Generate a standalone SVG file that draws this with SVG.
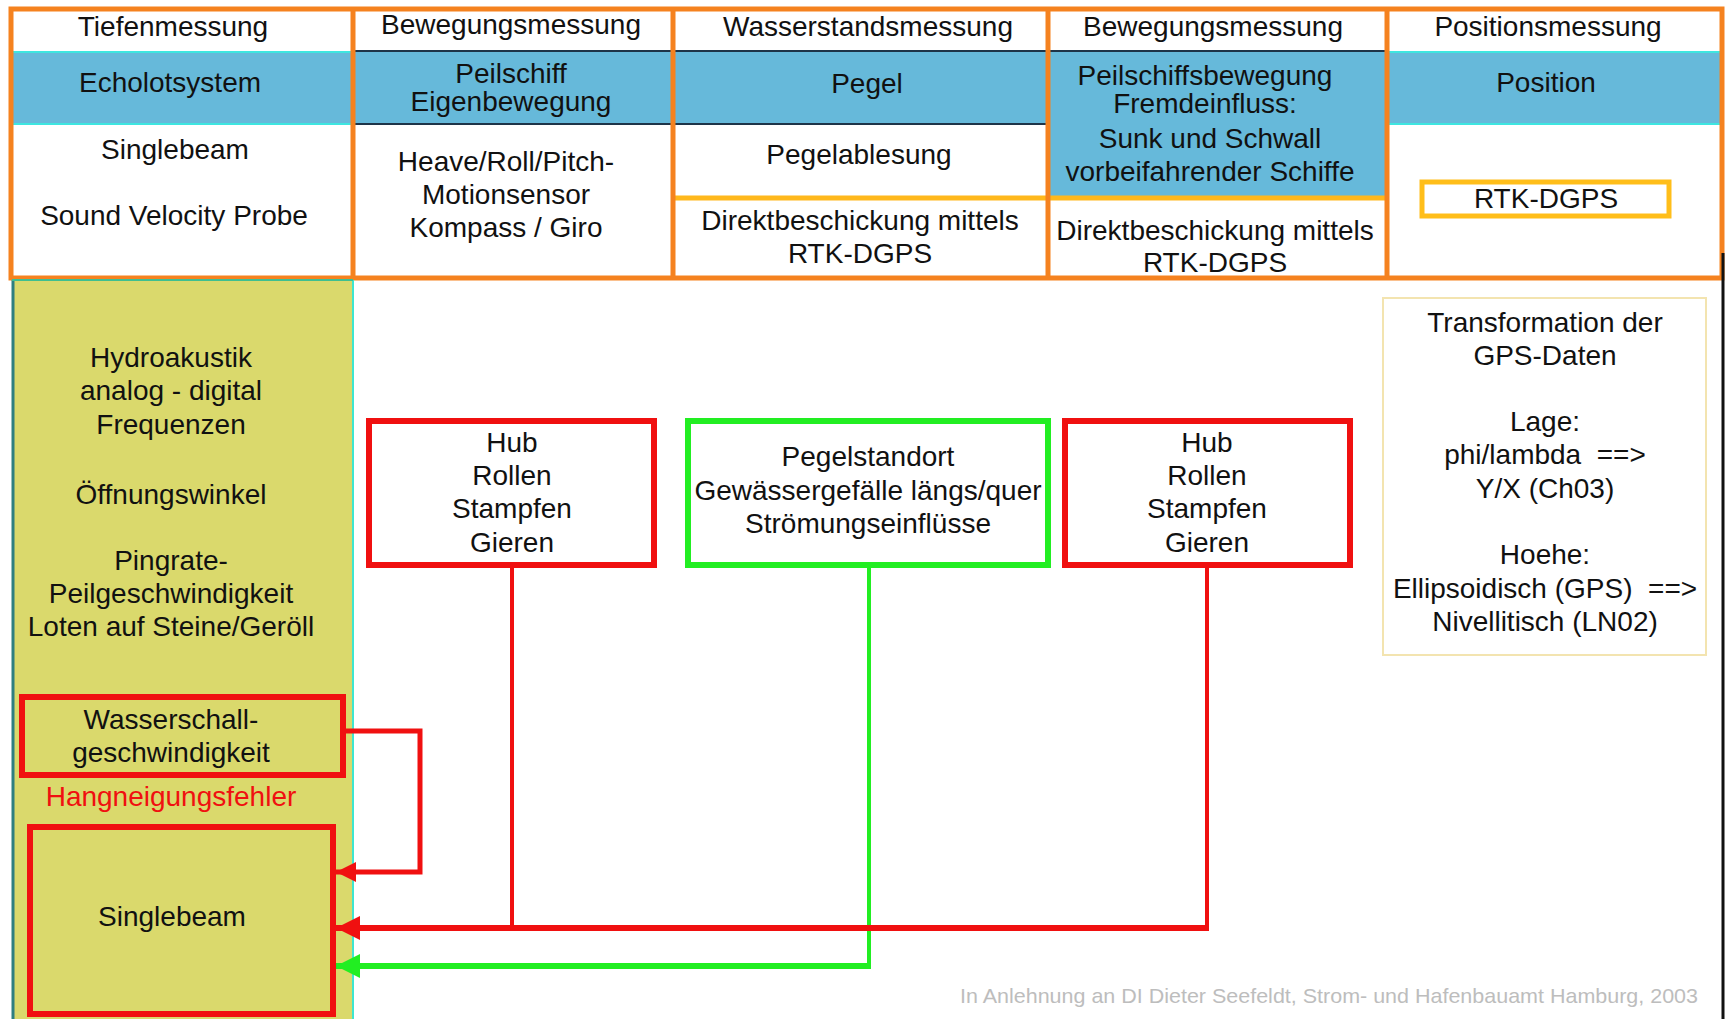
<svg xmlns="http://www.w3.org/2000/svg" width="1729" height="1019" viewBox="0 0 1729 1019">
<style>
text{font-family:"Liberation Sans",Arial,sans-serif;font-size:28px;fill:#111;text-anchor:middle}
.blue{fill:#66B9DA}
.org{stroke:#F5821F;stroke-width:5;fill:none}
.dark{stroke:#1E3448;stroke-width:2}
.cyan{stroke:#3EE6E0;stroke-width:2}
.red{stroke:#F01010;fill:none}
.grn{stroke:#22EE22;fill:none}
</style>
<defs>
<marker id="ar" viewBox="0 0 10 10" refX="10" refY="5" markerWidth="4" markerHeight="5" orient="auto" markerUnits="strokeWidth"><path d="M0,0L10,5L0,10z" fill="#F01010"/></marker>
<marker id="ag" viewBox="0 0 10 10" refX="10" refY="5" markerWidth="4" markerHeight="5" orient="auto" markerUnits="strokeWidth"><path d="M0,0L10,5L0,10z" fill="#22EE22"/></marker>
</defs>
<rect width="1729" height="1019" fill="#fff"/>

<g id="table">
<rect class="blue" x="11" y="51" width="1711" height="73"/>
<rect class="blue" x="1048" y="51" width="339" height="145"/>
<line class="cyan" x1="13" y1="52" x2="353" y2="52"/>
<line class="cyan" x1="13" y1="124" x2="353" y2="124"/>
<line class="cyan" x1="1387" y1="52" x2="1720" y2="52"/>
<line class="cyan" x1="1387" y1="124" x2="1720" y2="124"/>
<line class="dark" x1="353" y1="51" x2="1387" y2="51"/>
<line class="dark" x1="353" y1="124" x2="1048" y2="124"/>
<line x1="673" y1="198" x2="1387" y2="198" stroke="#FFB81C" stroke-width="5"/>
<rect class="org" x="11" y="9" width="1711" height="269"/>
<line class="org" x1="353" y1="9" x2="353" y2="278"/>
<line class="org" x1="673" y1="9" x2="673" y2="278"/>
<line class="org" x1="1048" y1="9" x2="1048" y2="278"/>
<line class="org" x1="1387" y1="9" x2="1387" y2="278"/>
</g>

<g id="col1">
<text x="173" y="36">Tiefenmessung</text>
<text x="170" y="92">Echolotsystem</text>
<text x="175" y="159">Singlebeam</text>
<text x="174" y="225">Sound Velocity Probe</text>
</g>
<g id="col2">
<text x="511" y="34">Bewegungsmessung</text>
<text x="511" y="83">Peilschiff</text>
<text x="511" y="111">Eigenbewegung</text>
<text x="506" y="171">Heave/Roll/Pitch-</text>
<text x="506" y="204">Motionsensor</text>
<text x="506" y="237">Kompass / Giro</text>
</g>
<g id="col3">
<text x="868" y="36">Wasserstandsmessung</text>
<text x="867" y="93">Pegel</text>
<text x="859" y="164">Pegelablesung</text>
<text x="860" y="230">Direktbeschickung mittels</text>
<text x="860" y="263">RTK-DGPS</text>
</g>
<g id="col4">
<text x="1213" y="36">Bewegungsmessung</text>
<text x="1205" y="85">Peilschiffsbewegung</text>
<text x="1205" y="113">Fremdeinfluss:</text>
<text x="1210" y="148">Sunk und Schwall</text>
<text x="1210" y="181">vorbeifahrender Schiffe</text>
<text x="1215" y="240">Direktbeschickung mittels</text>
<text x="1215" y="272">RTK-DGPS</text>
</g>
<g id="col5">
<text x="1548" y="36">Positionsmessung</text>
<text x="1546" y="92">Position</text>
<rect x="1422" y="182" width="247" height="34" fill="#fff" stroke="#FFBE1A" stroke-width="5"/>
<text x="1546" y="208">RTK-DGPS</text>
</g>

<g id="panel">
<rect x="12" y="280" width="341" height="745" fill="#DAD96C"/>
<line x1="13" y1="280" x2="13" y2="1019" stroke="#2E7F80" stroke-width="3"/>
<line x1="353" y1="280" x2="353" y2="1019" stroke="#3EE6D0" stroke-width="2"/>
<line x1="12" y1="280" x2="353" y2="280" stroke="#3FBF90" stroke-width="2"/>
<text x="171" y="367">Hydroakustik</text>
<text x="171" y="400">analog - digital</text>
<text x="171" y="434">Frequenzen</text>
<text x="171" y="504">Öffnungswinkel</text>
<text x="171" y="570">Pingrate-</text>
<text x="171" y="603">Peilgeschwindigkeit</text>
<text x="171" y="636">Loten auf Steine/Geröll</text>
<text x="171" y="806" style="fill:#F01010">Hangneigungsfehler</text>
</g>
<g id="wasserschall">
<rect class="red" x="22" y="697" width="321" height="78" stroke-width="6"/>
<text x="171" y="729">Wasserschall-</text>
<text x="171" y="762">geschwindigkeit</text>
</g>
<g id="singlebeam">
<rect class="red" x="30" y="827" width="303" height="187" stroke-width="6"/>
<text x="172" y="926">Singlebeam</text>
</g>

<g id="hub1">
<rect class="red" x="369" y="421" width="285" height="144" fill="#fff" stroke-width="6"/>
<text x="512" y="452">Hub</text>
<text x="512" y="485">Rollen</text>
<text x="512" y="518">Stampfen</text>
<text x="512" y="552">Gieren</text>
</g>
<g id="pegelstandort">
<rect class="grn" x="688" y="421" width="360" height="144" fill="#fff" stroke-width="6"/>
<text x="868" y="466">Pegelstandort</text>
<text x="868" y="500">Gewässergefälle längs/quer</text>
<text x="868" y="533">Strömungseinflüsse</text>
</g>
<g id="hub2">
<rect class="red" x="1065" y="421" width="285" height="144" fill="#fff" stroke-width="6"/>
<text x="1207" y="452">Hub</text>
<text x="1207" y="485">Rollen</text>
<text x="1207" y="518">Stampfen</text>
<text x="1207" y="552">Gieren</text>
</g>
<g id="transformation">
<rect x="1383" y="298" width="323" height="357" fill="#fff" stroke="#F3E4B0" stroke-width="2"/>
<text x="1545" y="332">Transformation der</text>
<text x="1545" y="365">GPS-Daten</text>
<text x="1545" y="431">Lage:</text>
<text x="1545" y="464" xml:space="preserve">phi/lambda  ==&gt;</text>
<text x="1545" y="498">Y/X (Ch03)</text>
<text x="1545" y="564">Hoehe:</text>
<text x="1545" y="598" xml:space="preserve">Ellipsoidisch (GPS)  ==&gt;</text>
<text x="1545" y="631">Nivellitisch (LN02)</text>
</g>

<g id="connectors">
<line x1="512" y1="565" x2="512" y2="928" class="red" stroke-width="4"/>
<line x1="1207" y1="565" x2="1207" y2="928" class="red" stroke-width="4"/>
<line x1="869" y1="565" x2="869" y2="966" class="grn" stroke-width="4"/>
<polyline points="343,731 420,731 420,872 336,872" class="red" stroke-width="5" marker-end="url(#ar)"/>
<polyline points="1209,928 336,928" class="red" stroke-width="6" marker-end="url(#ar)"/>
<polyline points="871,966 336,966" class="grn" stroke-width="6" marker-end="url(#ag)"/>
</g>

<line x1="1723" y1="253" x2="1723" y2="1019" stroke="#111" stroke-width="3"/>
<text x="1698" y="1003" style="font-size:21px;fill:#BDBDBD;text-anchor:end" textLength="738" lengthAdjust="spacingAndGlyphs">In Anlehnung an DI Dieter Seefeldt, Strom- und Hafenbauamt Hamburg, 2003</text>
</svg>
